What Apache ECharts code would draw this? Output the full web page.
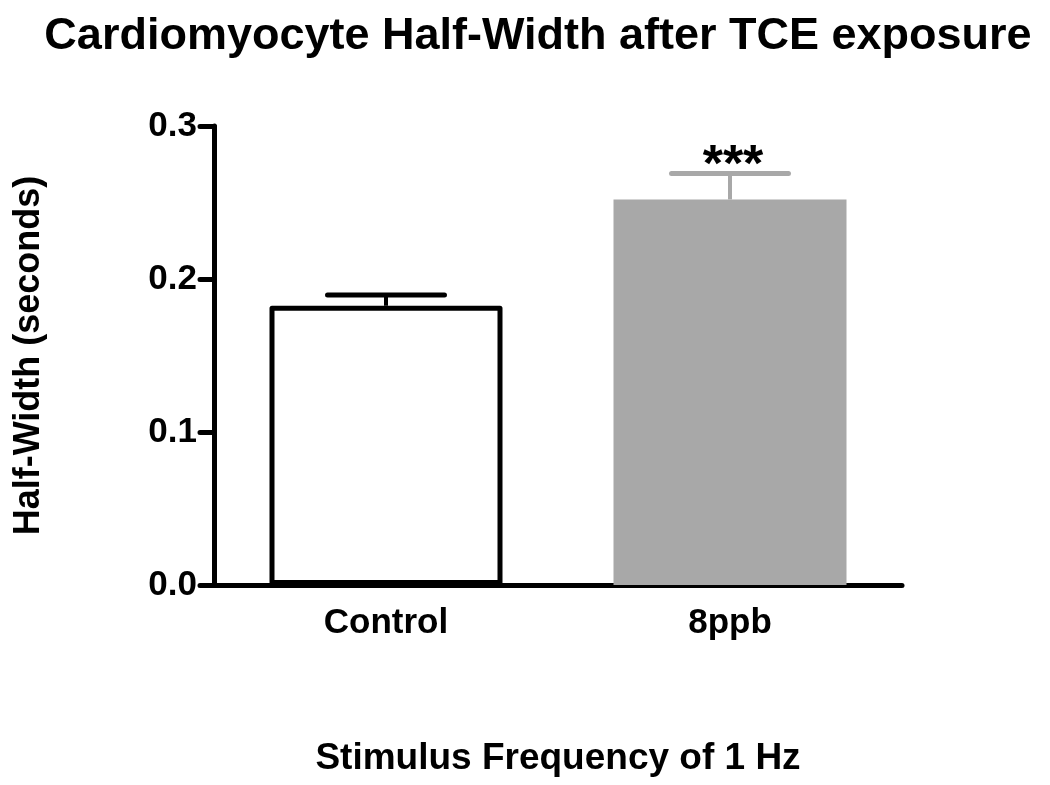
<!DOCTYPE html>
<html>
<head>
<meta charset="utf-8">
<script src="https://cdn.jsdelivr.net/npm/echarts@6/dist/echarts.min.js"></script>
<style>html,body{margin:0;padding:0;background:#fff}#c{width:1050px;height:785px}</style>
</head>
<body>
<div id="c"></div>
<script>
const categories = ['Control', '8ppb'];
const meanValues = [0.1825, 0.252];
const upperErrors = [0.1895, 0.269];
const sigLabels = ['', '***'];
const yTicks = [0.0, 0.1, 0.2, 0.3];

const FONT = '"Liberation Sans", Arial, sans-serif';
const barColors = ['#ffffff', '#a8a8a8'];
const barBorders = ['#000000', '#a8a8a8'];
const errColors = ['#000000', '#a8a8a8'];

const chart = echarts.init(document.getElementById('c'));
chart.setOption({
  animation: false,
  backgroundColor: '#ffffff',
  title: {
    text: 'Cardiomyocyte Half-Width after TCE exposure',
    left: 533, top: 9, textAlign: 'center',
    textStyle: { fontFamily: FONT, fontWeight: 'bold', fontSize: 45, color: '#000' }
  },
  grid: { left: 214, right: 148, top: 126, bottom: 200 },
  xAxis: {
    type: 'category',
    data: categories,
    name: 'Stimulus Frequency of 1 Hz',
    nameLocation: 'middle',
    nameGap: 155,
    nameTextStyle: { fontFamily: FONT, fontWeight: 'bold', fontSize: 37, color: '#000' },
    axisLine: { lineStyle: { color: '#000', width: 5 } },
    axisTick: { alignWithLabel: true, length: 14, lineStyle: { color: '#000', width: 5, cap: 'round' } },
    axisLabel: { margin: 21, fontFamily: FONT, fontWeight: 'bold', fontSize: 35, color: '#000' }
  },
  yAxis: {
    type: 'value',
    min: 0, max: 0.3, interval: 0.1,
    name: 'Half-Width (seconds)',
    nameLocation: 'middle',
    nameGap: 167,
    nameTextStyle: { fontFamily: FONT, fontWeight: 'bold', fontSize: 36, color: '#000' },
    axisLine: { show: true, lineStyle: { color: '#000', width: 5 } },
    axisTick: { show: true, length: 14, lineStyle: { color: '#000', width: 5, cap: 'round' } },
    splitLine: { show: false },
    axisLabel: {
      margin: 17, fontFamily: FONT, fontWeight: 'bold', fontSize: 35, color: '#000',
      formatter: v => yTicks.some(t => Math.abs(t - v) < 1e-9) ? v.toFixed(1) : ''
    }
  },
  series: [
    {
      type: 'bar',
      barWidth: 233,
      data: meanValues.map((v, i) => ({
        value: v,
        itemStyle: { color: barColors[i], borderColor: barBorders[i], borderWidth: i === 0 ? 5 : 0, borderJoin: 'round' }
      })),
      z: 2
    },
    {
      type: 'custom',
      z: 3,
      data: meanValues.map((v, i) => [i, v, upperErrors[i]]),
      renderItem: function (params, api) {
        const i = api.value(0);
        const base = api.coord([i, api.value(1)]);
        const top = api.coord([i, api.value(2)]);
        const half = api.size([1, 0])[0] * 0.17;
        const col = errColors[i];
        const children = [
          { type: 'line', shape: { x1: base[0], y1: base[1], x2: top[0], y2: top[1] }, style: { stroke: col, lineWidth: 4 } },
          { type: 'line', shape: { x1: top[0] - half, y1: top[1], x2: top[0] + half, y2: top[1] }, style: { stroke: col, lineWidth: 5, lineCap: 'round' } }
        ];
        if (sigLabels[i]) {
          children.push({
            type: 'text',
            style: {
              text: sigLabels[i], x: top[0] + 3, y: top[1] - 7,
              textAlign: 'center', textVerticalAlign: 'middle',
              font: 'bold 52px ' + FONT, fill: '#000'
            }
          });
        }
        return { type: 'group', children };
      }
    }
  ]
});
</script>
</body>
</html>
